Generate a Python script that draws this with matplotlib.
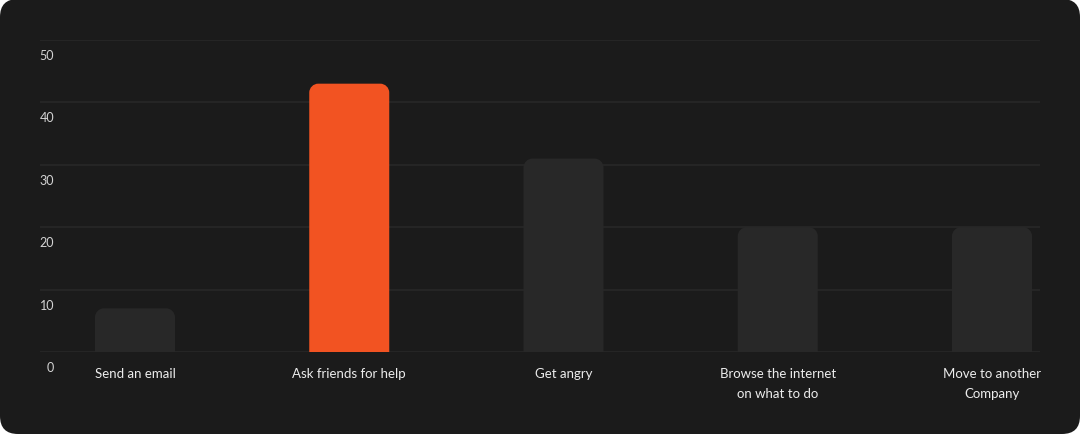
import numpy as np
import matplotlib
matplotlib.use("Agg")
import matplotlib.pyplot as plt
from matplotlib.patches import FancyBboxPatch, PathPatch
from matplotlib.path import Path
from matplotlib.transforms import IdentityTransform, blended_transform_factory, ScaledTranslation

# ---- data ----
categories = ["Send an email", "Ask friends for help", "Get angry",
              "Browse the internet\non what to do", "Move to another\nCompany"]
values = [7, 43, 31, 20, 20]
highlight = [False, True, False, False, False]
yticks = [0, 10, 20, 30, 40, 50]

# ---- style ----
W, H = 1080, 435
BG = "#1b1b1b"
BAR = "#282828"
HI = "#f25322"
GRID = "#252525"
TXT = "#ececec"
YTXT = "#d4d4d4"
plt.rcParams['font.family'] = ['Lato', 'DejaVu Sans']

fig = plt.figure(figsize=(W / 100, H / 100), dpi=100)
fig.patch.set_facecolor("white")
bg = FancyBboxPatch((0, 0), W, H, boxstyle="round,pad=0,rounding_size=18",
                    transform=IdentityTransform(), facecolor=BG, edgecolor="none",
                    zorder=-10)
fig.patches.append(bg)

# axes placement in pixels
left_px, right_px, top_px, bot_px = 40, 1040, 41, 353
ax = fig.add_axes([left_px / W, 1 - bot_px / H, (right_px - left_px) / W, (bot_px - top_px) / H])
ax.set_facecolor("none")

x = np.arange(len(categories))
first_c, last_c = 135, 992
step = (last_c - first_c) / (len(categories) - 1)
ax.set_xlim((left_px - first_c) / step, (right_px - first_c) / step)
ax.set_ylim(0, 50)

bar_w_px = 80
bw = bar_w_px / step
px_per_y = (bot_px - top_px) / 50.0
r_px = 9
rx = r_px / step
ry = r_px / px_per_y
k = 0.5523

for xi, v, h in zip(x, values, highlight):
    x0, x1 = xi - bw / 2, xi + bw / 2
    verts = [
        (x0, 0), (x0, v - ry),
        (x0, v - ry + k * ry), (x0 + rx - k * rx, v), (x0 + rx, v),
        (x1 - rx, v),
        (x1 - rx + k * rx, v), (x1, v - ry + k * ry), (x1, v - ry),
        (x1, 0), (x0, 0)
    ]
    codes = [Path.MOVETO, Path.LINETO,
             Path.CURVE4, Path.CURVE4, Path.CURVE4,
             Path.LINETO,
             Path.CURVE4, Path.CURVE4, Path.CURVE4,
             Path.LINETO, Path.CLOSEPOLY]
    ax.add_patch(PathPatch(Path(verts, codes), facecolor=HI if h else BAR,
                           edgecolor="none", zorder=3))

# gridlines
for t in yticks:
    ax.axhline(t, color=GRID, lw=1.5, zorder=1)

for s in ax.spines.values():
    s.set_visible(False)

ax.set_yticks([])
ax.set_xticks(x)
ax.set_xticklabels(categories, color=TXT, fontsize=9.5, linespacing=1.8)
ax.tick_params(axis='x', length=0, pad=11)

# y labels placed below gridlines
trans = blended_transform_factory(ax.transAxes, ax.transData)
off = ScaledTranslation(14 / 100, -9 / 100, fig.dpi_scale_trans)
for t in yticks:
    ax.text(0, t, str(t), transform=trans + off, ha="right", va="top",
            color=YTXT, fontsize=9)

fig.savefig("out.png", dpi=100, facecolor=fig.get_facecolor())
